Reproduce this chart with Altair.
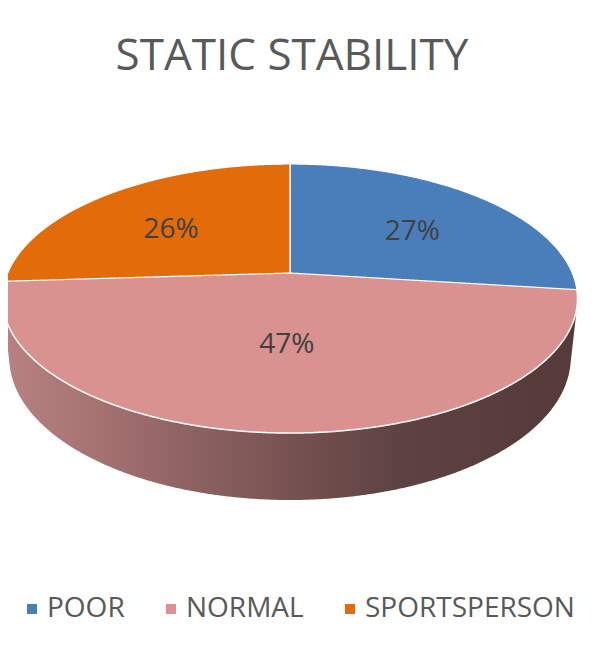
import numpy as np
import pandas as pd
import altair as alt

# ---- data ----
categories = ["POOR", "NORMAL", "SPORTSPERSON"]
percent = [27, 47, 26]
colours = ["#4a7ebb", "#d99290", "#e26b0a"]
chart_title = "STATIC STABILITY"

# ---- 3D pie geometry (camera tilt / perspective / thickness) ----
TILT = np.radians(27.35)
DIST = 4.684
DEPTH = 0.2375
PX = 282.3          # pixels per unit
CX, CY = 282.0, 175.0
W, H, TOP = 584, 553, 90


def project(theta, height=0.0):
    X, Z = np.sin(theta), np.cos(theta)
    dep = DIST + Z * np.cos(TILT) - height * np.sin(TILT)
    s = height * np.cos(TILT) + Z * np.sin(TILT)
    return X * DIST / dep, s * DIST / dep


frac = np.array(percent, dtype=float) / sum(percent)
edges = np.concatenate([[0.0], np.cumsum(frac)]) * 2 * np.pi

k = np.cos(TILT) / DIST
beta = np.sin(TILT)
ea = 1 / np.sqrt(1 - k * k)
eb = beta / (1 - k * k)
s0 = -beta * k / (1 - k * k)

# base face: the whole top ellipse, coloured as the slice that faces the viewer
base_idx = [i for i in range(len(categories)) if edges[i] <= np.pi <= edges[i + 1]][0]
phi = np.linspace(0, np.pi, 721)
face = pd.DataFrame({
    "cat": categories[base_idx],
    "u": ea * np.cos(phi),
    "s": s0 - eb * np.sin(phi),
    "s2": s0 + eb * np.sin(phi),
})

# other slices (x-monotone wedges starting/ending at the 12 o'clock edge)
rows = []
for i, c in enumerate(categories):
    if i == base_idx:
        continue
    th = np.linspace(edges[i], edges[i + 1], 400)
    u, s = project(th)
    end = edges[i + 1] if np.isclose(edges[i], 0) else edges[i]
    ue, se = project(np.array([end]))
    line = u * se[0] / ue[0]
    for a, b, l in zip(u, s, line):
        rows.append({"cat": c, "u": a, "s": l, "s2": b})
wedges = pd.DataFrame(rows)

# labels at the centroid of each visible top slice
lab = []
for i, c in enumerate(categories):
    th = np.linspace(edges[i], edges[i + 1], 400)
    u, s = project(th)
    px = np.r_[0.0, u]
    py = np.r_[0.0, s]
    x2, y2 = np.roll(px, -1), np.roll(py, -1)
    cr = px * y2 - x2 * py
    A = cr.sum() / 2
    lab.append({"u": ((px + x2) * cr).sum() / (6 * A),
                "s": ((py + y2) * cr).sum() / (6 * A),
                "text": f"{percent[i]}%"})
labels = pd.DataFrame(lab)

# side wall: lower convex hull of the top and bottom rims
th = np.linspace(0, 2 * np.pi, 1441)
tu, ts = project(th, 0.0)
bu, bs = project(th, -DEPTH)
pts = sorted(zip(np.r_[tu, bu], np.r_[ts, bs]))


def cross(o, a, b):
    return (a[0] - o[0]) * (b[1] - o[1]) - (a[1] - o[1]) * (b[0] - o[0])


hull = []
for p in pts:
    while len(hull) >= 2 and cross(hull[-2], hull[-1], p) <= 0:
        hull.pop()
    hull.append(p)
side = pd.DataFrame({"u": [p[0] for p in hull], "s": [p[1] for p in hull]})
side["s2"] = s0

xs = alt.Scale(domain=[-CX / PX, (W - CX) / PX])
ys = alt.Scale(domain=[(CY - H) / PX, CY / PX])
X = alt.X("u:Q", scale=xs, axis=None)
Y = alt.Y("s:Q", scale=ys, axis=None)
Y2 = alt.Y2("s2:Q")

colour = alt.Color(
    "cat:N",
    scale=alt.Scale(domain=categories, range=colours),
    legend=alt.Legend(
        title=None, orient="none", legendX=10, legendY=497,
        direction="horizontal", symbolType="square", symbolSize=100,
        symbolStrokeWidth=0, labelFont="Open Sans", labelFontSize=28,
        labelColor="#595959", labelOffset=1, columnPadding=32, padding=0,
        labelLimit=0,
    ),
)

grad = alt.Gradient(
    gradient="linear", x1=0, x2=1, y1=0, y2=0,
    stops=[
        alt.GradientStop(color="#b88282", offset=0),
        alt.GradientStop(color="#a57171", offset=0.17),
        alt.GradientStop(color="#8c6161", offset=0.34),
        alt.GradientStop(color="#755050", offset=0.52),
        alt.GradientStop(color="#5e4242", offset=0.69),
        alt.GradientStop(color="#553a3a", offset=1),
    ],
)

side_layer = alt.Chart(side).mark_area(color=grad).encode(x=X, y=Y, y2=Y2)
face_layer = alt.Chart(face).mark_area(stroke="white", strokeWidth=1.5).encode(
    x=X, y=Y, y2=Y2, color=colour)
wedge_layer = alt.Chart(wedges).mark_area(stroke="white", strokeWidth=1.2).encode(
    x=X, y=Y, y2=Y2, color=colour)
text_layer = alt.Chart(labels).mark_text(
    font="Open Sans", fontSize=28, color="#404040", align="center", baseline="middle"
).encode(x=X, y=Y, text="text:N")

chart = alt.layer(side_layer, face_layer, wedge_layer, text_layer).properties(
    width=W, height=H,
    padding={"left": 0, "top": TOP, "right": 0, "bottom": 0},
    autosize="none",
    title=alt.Title(chart_title, font="Open Sans", fontSize=44, color="#595959",
                    fontWeight="normal", anchor="middle", dx=-8,
                    baseline="alphabetic", offset=26, dy=42),
).configure_view(stroke=None)

chart.save("out.html", embed_options={"renderer": "svg", "actions": False})
